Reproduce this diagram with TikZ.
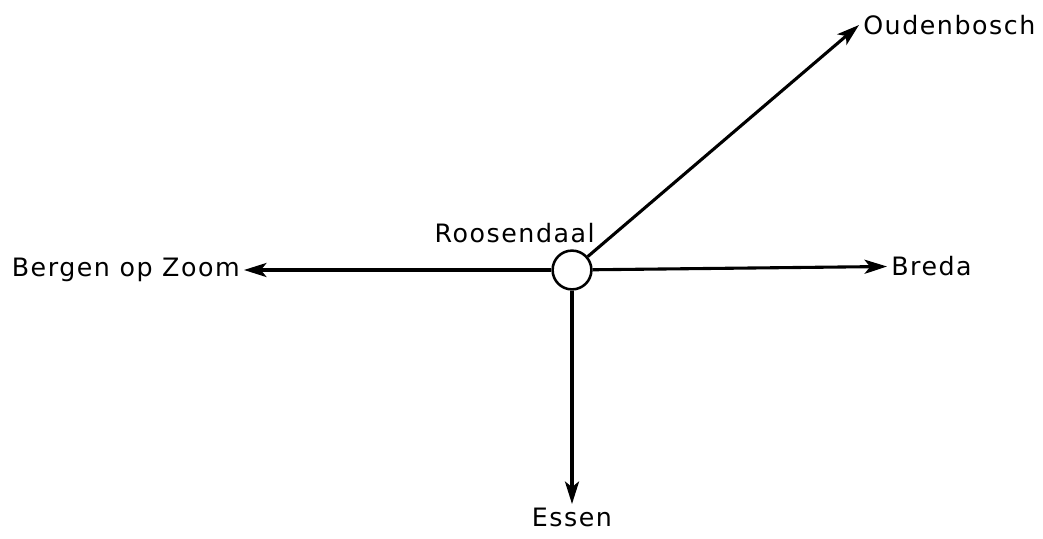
\documentclass[tikz,border=0pt]{standalone}
\usepackage{fontspec}
\newfontfamily\mapfont[LetterSpace=6]{DejaVu Sans}
\usetikzlibrary{arrows.meta}

\begin{document}
\begin{tikzpicture}[
    x=0.025cm,y=-0.025cm,
    stn/.style={draw,circle,line width=1.8pt,minimum size=0.97cm,inner sep=0pt},
    lbl/.style={font=\mapfont\fontsize{18}{20}\selectfont,inner sep=0.1cm},
    arr/.style={-{Stealth[length=16pt,width=10pt,inset=4pt]},line width=2.2pt}
  ]
  \useasboundingbox (0,0) rectangle (1043,538);

  %% -- Station and place names ------------------------------------------
  \node[stn] (rsd) at (572,270) {};
  \node[lbl,anchor=south east] (rsdname) at (599,247) {Roosendaal};
  \node[lbl,anchor=east]  (boz) at (244,270) {Bergen op Zoom};
  \node[lbl,anchor=west]  (bre) at (887,266) {Breda};
  \node[lbl,anchor=north] (ess) at (572,504) {Essen};
  \node[lbl,anchor=west]  (oud) at (859,25)  {Oudenbosch};

  %% -- Lines out of Roosendaal -----------------------------------------
  \draw[arr] (rsd) -- (boz);
  \draw[arr] (rsd) -- (bre);
  \draw[arr] (rsd) -- (ess);
  \draw[arr] (rsd) -- (oud.west);

\end{tikzpicture}
\end{document}
